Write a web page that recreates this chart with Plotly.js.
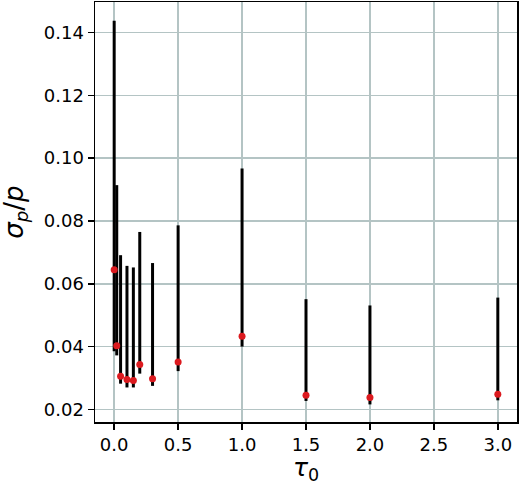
<!DOCTYPE html>
<html>
<head>
<meta charset="utf-8">
<script src="https://cdn.plot.ly/plotly-3.0.1.min.js"></script>
<style>
  html, body { margin: 0; padding: 0; background: #fff; }
  #plot { width: 520px; height: 487px; }
</style>
</head>
<body>
<div id="plot"></div>
<script>
// tau_0 values and the relative error sigma_p/p, with the range bars
const tau0    = [0.0,    0.02,   0.05,   0.1,    0.15,   0.2,    0.3,    0.5,    1.0,    1.5,    2.0,    3.0];
const sigma   = [0.0645, 0.0403, 0.0306, 0.0295, 0.0292, 0.0343, 0.0298, 0.0351, 0.0433, 0.0245, 0.0238, 0.0248];
const upper   = [0.1437, 0.0914, 0.0691, 0.0657, 0.0652, 0.0765, 0.0666, 0.0786, 0.0967, 0.0551, 0.0531, 0.0556];
const lower   = [0.0385, 0.0372, 0.0282, 0.0270, 0.0270, 0.0314, 0.0275, 0.0322, 0.0400, 0.0227, 0.0216, 0.0229];

const xTicks = [0.0, 0.5, 1.0, 1.5, 2.0, 2.5, 3.0];
const yTicks = [0.02, 0.04, 0.06, 0.08, 0.10, 0.12, 0.14];

const plus  = upper.map((u, i) => u - sigma[i]);
const minus = sigma.map((s, i) => s - lower[i]);

const trace = {
    x: tau0,
    y: sigma,
    mode: 'markers',
    type: 'scatter',
    marker: { color: '#dc1a1f', size: 7 },
    error_y: {
        type: 'data',
        symmetric: false,
        array: plus,
        arrayminus: minus,
        color: '#000',
        thickness: 3,
        width: 0
    },
    hoverinfo: 'skip'
};

const axisCommon = {
    showline: true,
    linecolor: '#000',
    linewidth: 1.5,
    mirror: true,
    ticks: 'outside',
    ticklen: 6,
    tickwidth: 1.5,
    tickcolor: '#000',
    showgrid: true,
    gridcolor: '#b4c4c4',
    gridwidth: 1.5,
    zeroline: false,
    tickfont: { family: 'DejaVu Sans', size: 18, color: '#000' }
};

const titleFont = { family: 'DejaVu Sans', size: 25, color: '#000' };

const layout = {
    width: 520,
    height: 487,
    margin: { l: 95, r: 3, t: 2, b: 65 },
    paper_bgcolor: '#fff',
    plot_bgcolor: '#fff',
    showlegend: false,
    xaxis: Object.assign({}, axisCommon, {
        range: [-0.15, 3.15],
        tickvals: xTicks,
        ticktext: xTicks.map(v => v.toFixed(1))
    }),
    yaxis: Object.assign({}, axisCommon, {
        range: [0.016, 0.1497],
        tickvals: yTicks,
        ticktext: yTicks.map(v => v.toFixed(2))
    }),
    // axis titles placed as annotations so they sit where the original has them
    annotations: [
        {
            text: '<i>τ</i><sub>0</sub>',
            xref: 'paper', yref: 'paper',
            x: 0.5, y: -0.112,
            xanchor: 'center', yanchor: 'middle',
            showarrow: false,
            font: titleFont
        },
        {
            text: '<i>σ</i><sub><i>p</i></sub>/<i>p</i>',
            xref: 'paper', yref: 'paper',
            x: -0.19, y: 0.5,
            xanchor: 'center', yanchor: 'middle',
            textangle: -90,
            showarrow: false,
            font: { family: 'DejaVu Sans', size: 26, color: '#000' }
        }
    ]
};

Plotly.newPlot('plot', [trace], layout, { displayModeBar: false, staticPlot: true });
</script>
</body>
</html>
